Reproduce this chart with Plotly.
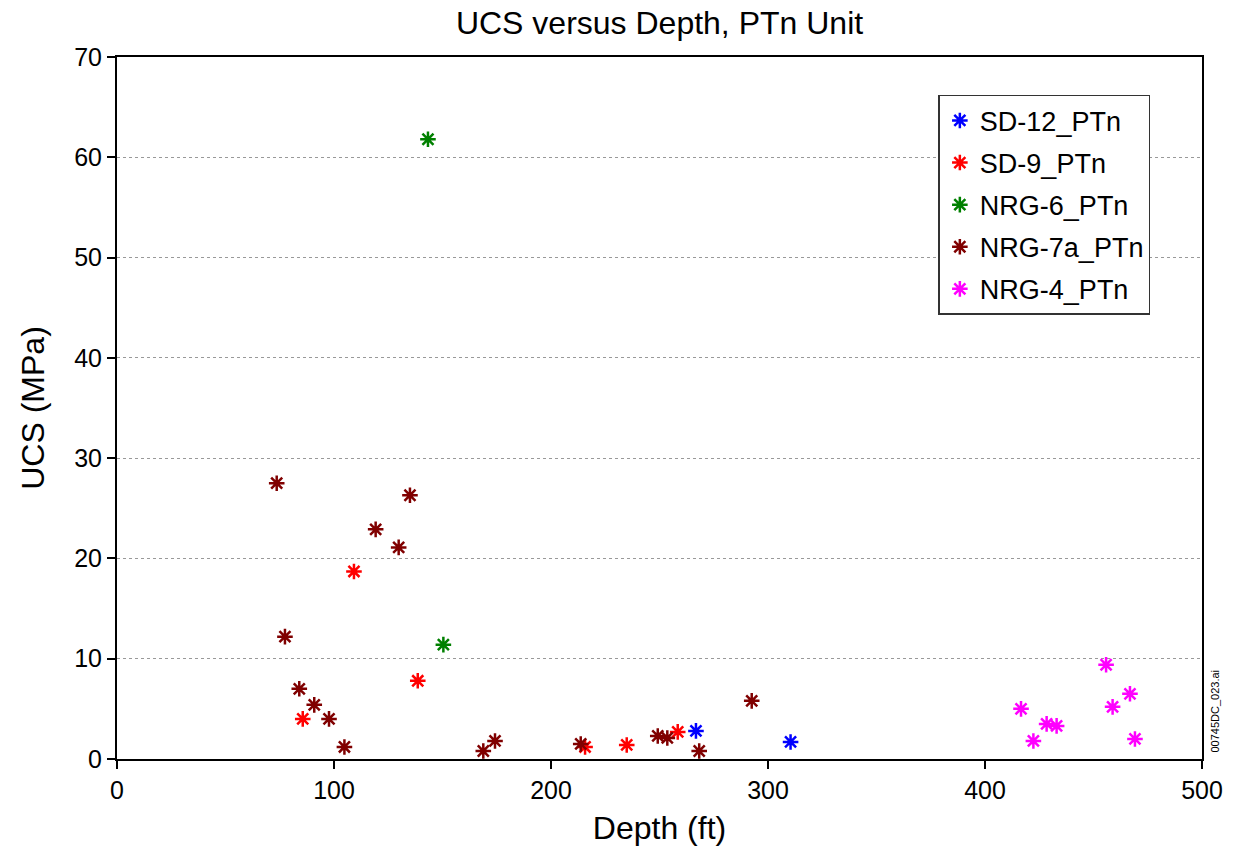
import plotly.graph_objects as go

# ---- data ----
sd12_depth = [266.8, 310.4]
sd12_ucs = [2.8, 1.7]

sd9_depth = [85.6, 109.2, 138.6, 215.7, 234.9, 258.4]
sd9_ucs = [4.0, 18.7, 7.8, 1.2, 1.4, 2.7]

nrg6_depth = [143.3, 150.4]
nrg6_ucs = [61.8, 11.4]

nrg7a_depth = [73.6, 77.4, 84.0, 90.9, 97.7, 104.8, 119.2, 129.8, 135.0,
               168.8, 174.2, 213.7, 249.2, 253.6, 268.3, 292.5]
nrg7a_ucs = [27.5, 12.2, 7.0, 5.4, 4.0, 1.2, 22.9, 21.1, 26.3,
             0.8, 1.8, 1.5, 2.3, 2.1, 0.8, 5.8]

nrg4_depth = [416.6, 422.3, 428.4, 433.0, 455.8, 458.8, 466.8, 469.1]
nrg4_ucs = [5.0, 1.8, 3.5, 3.3, 9.4, 5.2, 6.5, 2.0]

series = [
    ("SD-12_PTn", sd12_depth, sd12_ucs, "#0000ff"),
    ("SD-9_PTn", sd9_depth, sd9_ucs, "#ff0000"),
    ("NRG-6_PTn", nrg6_depth, nrg6_ucs, "#008000"),
    ("NRG-7a_PTn", nrg7a_depth, nrg7a_ucs, "#800000"),
    ("NRG-4_PTn", nrg4_depth, nrg4_ucs, "#ff00ff"),
]

x_ticks = [0, 100, 200, 300, 400, 500]
y_ticks = [0, 10, 20, 30, 40, 50, 60, 70]

FONT = "Liberation Sans, Arial, sans-serif"

fig = go.Figure()
for name, xs, ys, col in series:
    fig.add_trace(go.Scatter(
        x=xs, y=ys, mode="markers", name=name, legendgroup=name,
        marker=dict(symbol="asterisk-open", size=13, color=col,
                    line=dict(color=col, width=2.5)),
    ))

fig.update_layout(
    width=1237, height=854,
    paper_bgcolor="white", plot_bgcolor="white",
    margin=dict(l=117, r=35, t=57, b=95),
    font=dict(family=FONT, color="black"),
    title=dict(text="UCS versus Depth, PTn Unit", xref="paper", x=0.5,
               xanchor="center", y=0.973, yanchor="middle",
               font=dict(size=32, family=FONT)),
    showlegend=True,
    legend=dict(x=0.757, y=0.946, xanchor="left", yanchor="top",
                bgcolor="white", bordercolor="#333333", borderwidth=1.5,
                font=dict(size=27, family=FONT), tracegroupgap=4,
                traceorder="grouped", itemwidth=30),
)

fig.update_xaxes(
    range=[0, 500], tickvals=x_ticks, ticks="outside", ticklen=8,
    tickwidth=1.5, tickcolor="black",
    showline=True, linecolor="black", linewidth=2, mirror=True,
    showgrid=False, zeroline=False,
    tickfont=dict(size=25, family=FONT),
    title=dict(text="Depth (ft)", font=dict(size=32, family=FONT), standoff=14),
)
fig.update_yaxes(
    range=[0, 70], tickvals=y_ticks, ticks="outside", ticklen=8,
    tickwidth=1.5, tickcolor="black",
    showline=True, linecolor="black", linewidth=2, mirror=True,
    showgrid=True, gridcolor="#999999", griddash="dot", gridwidth=1,
    zeroline=False,
    tickfont=dict(size=25, family=FONT),
    title=dict(text="UCS (MPa)", font=dict(size=32, family=FONT), standoff=20),
)

fig.add_annotation(
    text="00745DC_023.ai", xref="paper", yref="paper",
    x=1.0, y=0.0, xanchor="left", yanchor="bottom", xshift=4, yshift=4,
    textangle=-90, showarrow=False, font=dict(size=11, family=FONT),
)

fig.write_html("out.html")
